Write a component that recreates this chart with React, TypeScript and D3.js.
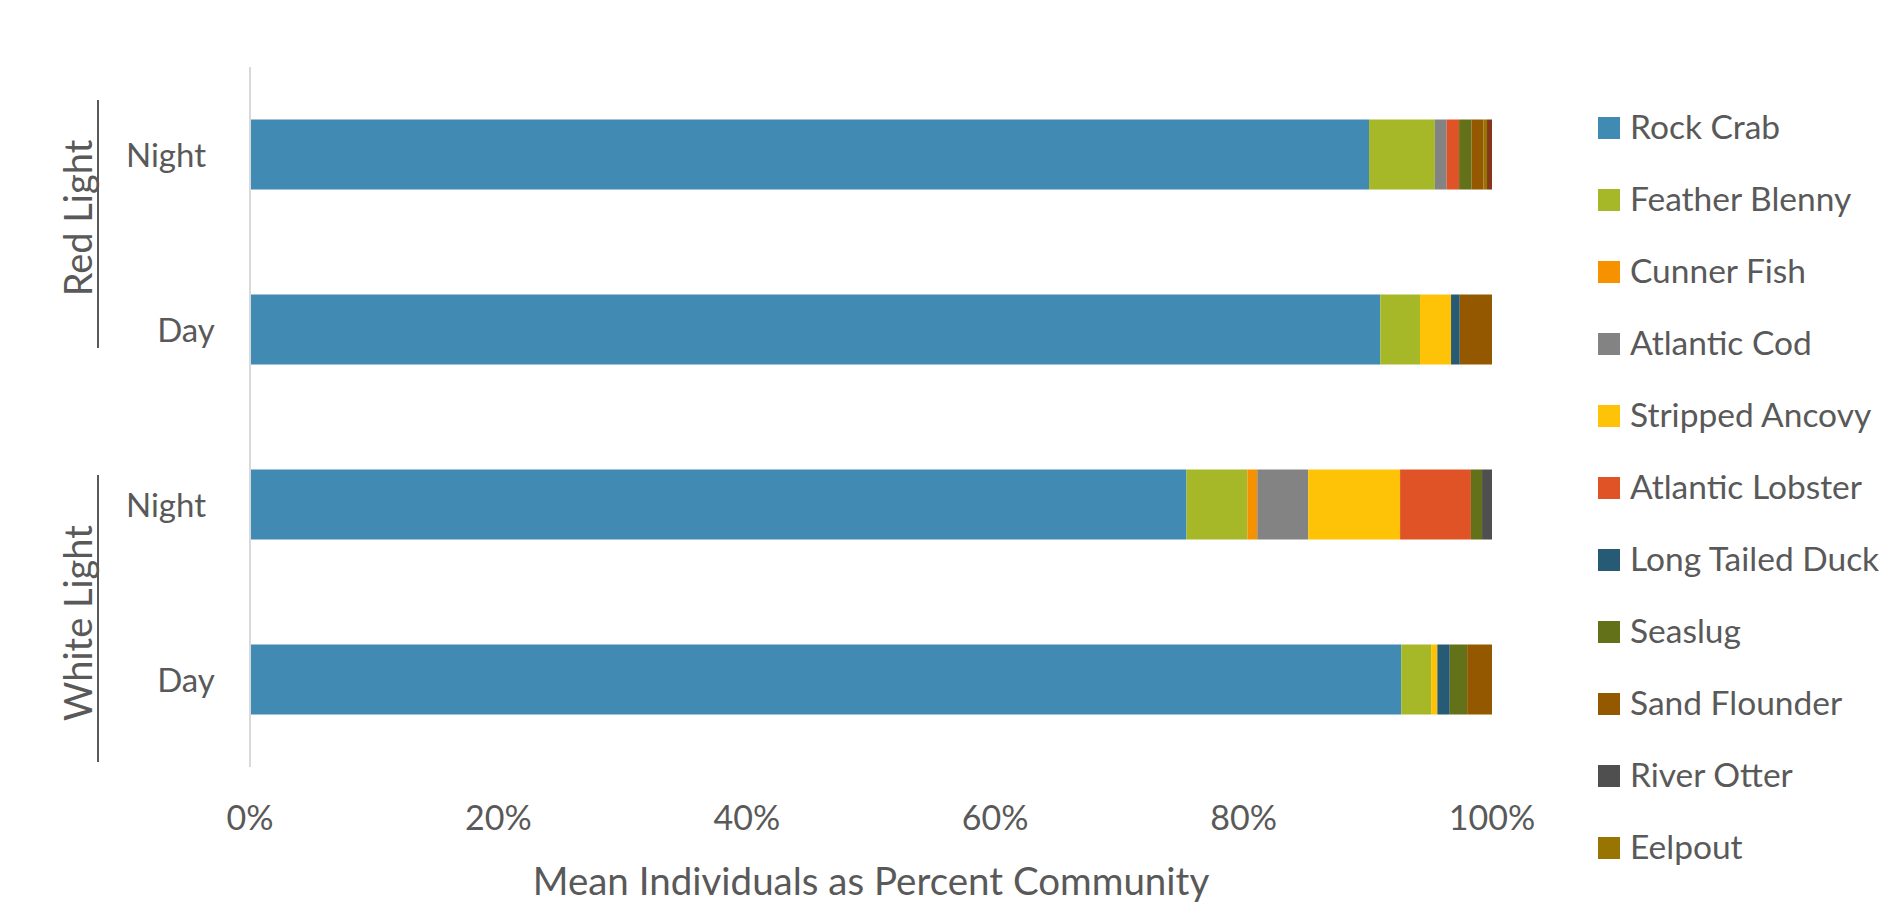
import React from "react";
import * as d3 from "d3";

const groups = ["Red Light", "Red Light", "White Light", "White Light"];
const conditions = ["Night", "Day", "Night", "Day"];
const categoryKeys = ["RL-Night", "RL-Day", "WL-Night", "WL-Day"];

const speciesNames = [
  "Rock Crab",
  "Feather Blenny",
  "Cunner Fish",
  "Atlantic Cod",
  "Stripped Ancovy",
  "Atlantic Lobster",
  "Long Tailed Duck",
  "Seaslug",
  "Sand Flounder",
  "River Otter",
  "Eelpout",
  "Other",
];
const legendNames = speciesNames.slice(0, 11);

// values per category: [Red Night, Red Day, White Night, White Day]
const rockCrab = [90.1, 91.1, 75.4, 92.7];
const featherBlenny = [5.3, 3.2, 4.9, 2.4];
const cunnerFish = [0, 0, 0.8, 0];
const atlanticCod = [0.95, 0, 4.1, 0];
const strippedAncovy = [0, 2.5, 7.4, 0.5];
const atlanticLobster = [1.0, 0, 5.7, 0];
const longTailedDuck = [0, 0.7, 0, 1.0];
const seaslug = [1.0, 0, 0.9, 1.4];
const sandFlounder = [0.95, 2.6, 0, 2.0];
const riverOtter = [0, 0, 0.8, 0];
const eelpout = [0.3, 0, 0, 0];
const other = [0.4, 0, 0, 0];

const seriesValues = [
  rockCrab,
  featherBlenny,
  cunnerFish,
  atlanticCod,
  strippedAncovy,
  atlanticLobster,
  longTailedDuck,
  seaslug,
  sandFlounder,
  riverOtter,
  eelpout,
  other,
];

const colors = [
  "#418AB3",
  "#A6B727",
  "#F69200",
  "#838383",
  "#FEC306",
  "#DF5327",
  "#275B75",
  "#637118",
  "#935800",
  "#4F4F4F",
  "#987503",
  "#86361A",
];

const xTicks = [0, 0.2, 0.4, 0.6, 0.8, 1.0];

const FONT = "Lato, 'Open Sans', sans-serif";
const TXT = "#595959";

export default function App() {
  const width = 1890;
  const height = 909;

  const rows = categoryKeys.map((k, i) => {
    const r: any = { key: k };
    speciesNames.forEach((s, j) => (r[s] = seriesValues[j][i]));
    return r;
  });

  const stack = d3
    .stack<any>()
    .keys(speciesNames)
    .offset(d3.stackOffsetExpand);
  const stacked = stack(rows);

  const x = d3.scaleLinear().domain([0, 1]).range([250, 1492]);
  const y = d3
    .scaleBand<string>()
    .domain(categoryKeys)
    .range([67, 767])
    .paddingInner(0.6)
    .paddingOuter(0.3);

  const groupNames = Array.from(new Set(groups));
  const groupSpan = (g: string) => {
    const keys = categoryKeys.filter((_, i) => groups[i] === g);
    const top = y(keys[0])! - y.step() * y.paddingInner() / 2;
    const bottom = y(keys[keys.length - 1])! + y.bandwidth() + y.step() * y.paddingInner() / 2;
    return [top, bottom];
  };

  return (
    <svg width={width} height={height} style={{ position: "absolute", left: 0, top: 0 }}>
      <rect x={0} y={0} width={width} height={height} fill="#fff" />
      {/* bars */}
      {stacked.map((layer, li) => (
        <g key={layer.key} fill={colors[li]}>
          {layer.map((d, i) => {
            const w = x(d[1]) - x(d[0]);
            if (w <= 0.01) return null;
            return (
              <rect
                key={i}
                x={x(d[0])}
                y={y(categoryKeys[i])}
                width={w}
                height={y.bandwidth()}
              />
            );
          })}
        </g>
      ))}
      {/* vertical axis line */}
      <line x1={x(0)} x2={x(0)} y1={67} y2={767} stroke="#D9D9D9" strokeWidth={2} />
      {/* category labels */}
      {categoryKeys.map((k, i) => (
        <text
          key={k}
          x={conditions[i] === "Night" ? 166 : 186}
          y={y(k)! + y.bandwidth() / 2 + 12}
          textAnchor="middle"
          fontFamily={FONT}
          fontSize={33}
          fill={TXT}
        >
          {conditions[i]}
        </text>
      ))}
      {/* group labels and separators */}
      {groupNames.map((g) => {
        const [t, b] = groupSpan(g);
        const mid = (t + b) / 2;
        const lineTop = g === "Red Light" ? t + 33 : t + 58;
        const lineBot = g === "Red Light" ? b - 69 : b - 5;
        const textMid = g === "Red Light" ? mid - 24 : mid + 31;
        return (
          <g key={g}>
            <line x1={98} x2={98} y1={lineTop} y2={lineBot} stroke={TXT} strokeWidth={2} />
            <text
              transform={`translate(92,${textMid}) rotate(-90)`}
              textAnchor="middle"
              fontFamily={FONT}
              fontSize={38}
              fill={TXT}
            >
              {g}
            </text>
          </g>
        );
      })}
      {/* x tick labels */}
      {xTicks.map((t) => (
        <text
          key={t}
          x={x(t)}
          y={830}
          textAnchor="middle"
          fontFamily={FONT}
          fontSize={34}
          fill={TXT}
        >
          {d3.format(".0%")(t)}
        </text>
      ))}
      {/* x axis title */}
      <text
        x={(x(0) + x(1)) / 2}
        y={895}
        textAnchor="middle"
        fontFamily={FONT}
        fontSize={38.5}
        fill={TXT}
      >
        Mean Individuals as Percent Community
      </text>
      {/* legend */}
      {legendNames.map((n, i) => (
        <g key={n} transform={`translate(1598,${128 + i * 72})`}>
          <rect x={0} y={-11} width={22} height={22} fill={colors[i]} />
          <text x={32} y={11} fontFamily={FONT} fontSize={33.5} fill={TXT}>
            {n}
          </text>
        </g>
      ))}
    </svg>
  );
}
